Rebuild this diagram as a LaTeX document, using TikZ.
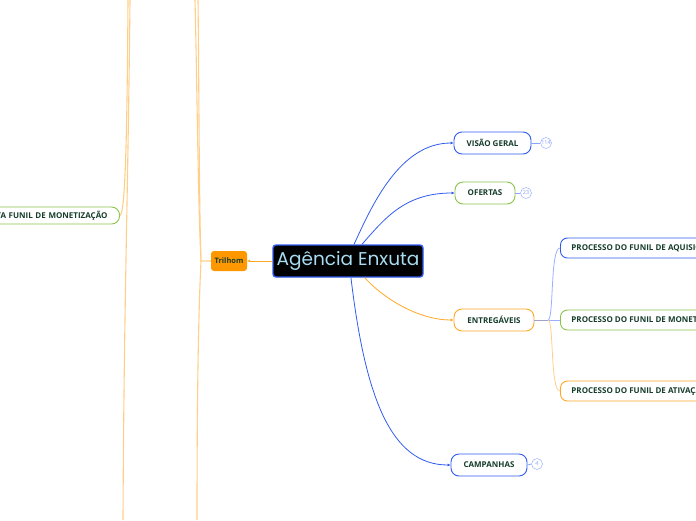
\documentclass[tikz,border=0pt]{standalone}
\usepackage{fontspec}
\usetikzlibrary{arrows.meta,positioning}
\newfontfamily\rootfont{Poppins}
\newfontfamily\labelfont{Open Sans}
\definecolor{linkblue}{HTML}{2F5BF0}
\definecolor{topicgreen}{HTML}{8BC34A}
\definecolor{topicorange}{HTML}{FFA726}
\definecolor{textgreen}{HTML}{163D2B}
\definecolor{rootblue}{HTML}{A8DCF0}
\definecolor{badgeblue}{HTML}{8DA4FF}
\definecolor{paleorange}{HTML}{FFCF8A}
\definecolor{paleblue}{HTML}{9AB0FF}
\definecolor{trilorange}{HTML}{FF9800}
\definecolor{stemgray}{HTML}{A0A0C8}

\begin{document}
\begin{tikzpicture}[x=1pt,y=-1pt]
\tikzstyle{every node}=[font=\labelfont\bfseries\fontsize{8}{9}\selectfont, text=textgreen]
\tikzstyle{topic}=[draw, line width=0.9pt, fill=white, rounded corners=8pt, minimum height=22pt, inner xsep=5pt]
\tikzstyle{subtopic}=[draw, line width=0.9pt, fill=white, rounded corners=7pt, minimum height=20pt, anchor=west, inner xsep=11pt]
\tikzstyle{badge}=[draw=badgeblue, circle, fill=white, inner sep=0pt, minimum size=11pt, text=badgeblue, font=\labelfont\fontsize{5.5}{6}\selectfont]
\tikzstyle{link}=[line width=0.8pt, -{Latex[length=3pt,width=3pt]}]
\tikzstyle{thread}=[line width=1.1pt, paleorange]
\useasboundingbox (0,0) rectangle (696,520);
\clip (0,0) rectangle (696,520);

% far left threads
\coordinate (farA) at (130,0);
\coordinate (farB) at (128,0);
\coordinate (farC) at (123,520);
\coordinate (farD) at (195,0);
\coordinate (farE) at (198,0);
\coordinate (farF) at (197,520);

\node[topic, draw=topicgreen, anchor=east, minimum height=17pt, text width=160pt, align=right, inner xsep=12pt] (monet) at (120,215.5) {TA FUNIL DE MONETIZAÇÃO};
\draw[thread] (farB) .. controls (127,150) and (125,212) .. (monet.east);
\draw[thread] (farA) .. controls (128,200) and (124,300) .. (farC);

% root
\node[draw=linkblue, fill=black, line width=1.4pt, rounded corners=3pt, minimum width=150pt, minimum height=32pt, text=rootblue, font=\rootfont\fontsize{18.5}{20}\selectfont] (root) at (348,261) {Agência Enxuta};

\node[fill=trilorange, rounded corners=3pt, minimum width=36pt, minimum height=20pt, inner sep=2pt, font=\labelfont\bfseries\fontsize{7.5}{8}\selectfont] (tril) at (229,261) {Trilhom};
\draw[line width=1pt, topicorange, -{Latex[length=3pt,width=3pt]}] (root.west) -- (tril.east);
\draw[thread] (tril.west) -- (201,261) .. controls (198,200) and (197,80) .. (farD);
\draw[thread] (201,261) .. controls (199,200) and (199,80) .. (farE);
\draw[thread] (201,261) .. controls (198,320) and (197,420) .. (farF);

% main topics
\node[topic, draw=linkblue, minimum width=77pt] (vis) at (492.5,143) {VISÃO GERAL};
\node[topic, draw=topicgreen, minimum width=60pt] (ofe) at (485,193) {OFERTAS};
\node[topic, draw=topicorange, minimum width=80pt] (ent) at (494,320) {ENTREGÁVEIS};
\node[topic, draw=linkblue, minimum width=76pt] (cam) at (489,465) {CAMPANHAS};

\draw[link, linkblue] (root.70) .. controls (372,205) and (400,143) .. (vis.west);
\draw[link, linkblue] (root.50) .. controls (385,218) and (405,193) .. (ofe.west);
\draw[link, topicorange] (root.-45) .. controls (385,300) and (420,320) .. (ent.west);
\draw[link, linkblue] (root.-80) .. controls (365,395) and (390,465) .. (cam.west);

% counters
\node[badge] (visn) at (546,143) {114};
\node[badge] (ofen) at (526,193) {23};
\node[badge] (camn) at (537,464) {4};
\draw[badgeblue, line width=0.8pt] (vis.east) -- (visn.west);
\draw[badgeblue, line width=0.8pt] (ofe.east) -- (ofen.west);
\draw[badgeblue, line width=0.8pt] (cam.east) -- (camn.west);

% deliverables
\node[subtopic, draw=linkblue] (aqu) at (560,248) {PROCESSO DO FUNIL DE AQUISIÇÃO};
\node[subtopic, draw=topicgreen] (mon) at (560,320) {PROCESSO DO FUNIL DE MONETIZAÇÃO};
\node[subtopic, draw=topicorange] (ati) at (560,391) {PROCESSO DO FUNIL DE ATIVAÇÃO};
\coordinate (fork) at (548,320);
\draw[stemgray, line width=1pt] (ent.east) -- (fork);
\draw[paleblue, line width=0.8pt] (fork) .. controls (554,320) and (550,248) .. (aqu.west);
\draw[paleblue, line width=0.8pt] (fork) -- (mon.west);
\draw[paleorange, line width=0.8pt] (fork) .. controls (554,320) and (550,391) .. (ati.west);
\end{tikzpicture}
\end{document}
